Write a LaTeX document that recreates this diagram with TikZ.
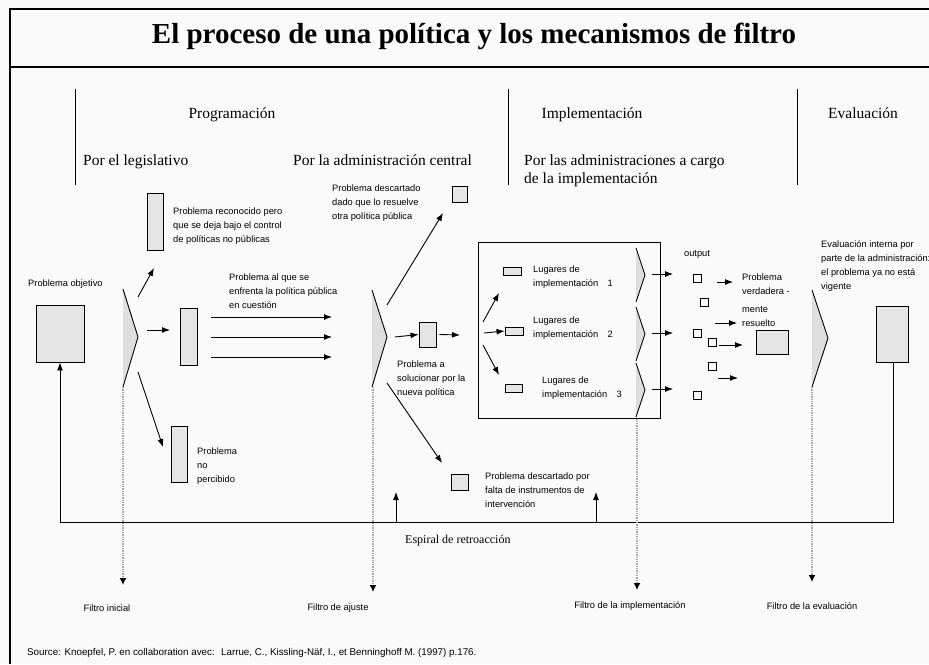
\documentclass[tikz,border=0pt]{standalone}
\usepackage{fontspec}
\setmainfont{Liberation Serif}
\setsansfont{Liberation Sans}
\usetikzlibrary{arrows.meta}

\definecolor{paper}{gray}{0.98}
\definecolor{boxgray}{gray}{0.90}
\definecolor{trigray}{gray}{0.87}

\tikzset{
  pbox/.style={draw, fill=boxgray, inner sep=0pt, line width=0.9pt},
  sq/.style={draw, fill=paper, inner sep=0pt, minimum size=8pt, line width=0.9pt},
  filt/.style={draw, fill=trigray, line width=0.9pt},
  arr/.style={-{Latex[length=8pt,width=6pt]}, line width=0.9pt},
  dots/.style={densely dotted, gray!70, line width=1.3pt, -{Latex[length=7pt,width=7pt,color=black]}},
  lbl/.style={font=\sffamily\fontsize{9.3}{14}\selectfont, align=left, inner sep=0pt, anchor=west},
  head/.style={font=\fontsize{15.5}{18}\selectfont, align=left, inner sep=0pt},
}

\begin{document}
\begin{tikzpicture}[x=1pt,y=-1pt]
    \useasboundingbox[fill=paper] (0,0) rectangle (929,664);
    \draw[line width=1.3pt] (929,9) -- (10,9) -- (10,664);
    \draw[line width=1.3pt] (10,67) -- (929,67);
    \node[font=\bfseries\fontsize{29}{32}\selectfont] (title) at (474,36) {El proceso de una política y los mecanismos de filtro};

    \foreach \x in {75,508,797}
      \draw[line width=1pt] (\x,89) -- (\x,185);
    \node[head, anchor=base] (prog) at (232,118) {Programación};
    \node[head, anchor=base] (impl) at (592,118) {Implementación};
    \node[head, anchor=base west] (eval) at (828,118) {Evaluación};
    \node[head, anchor=base west] (legis) at (83,165) {Por el legislativo};
    \node[head, anchor=base west] (admc) at (293,165) {Por la administración central};
    \node[head, anchor=base west] (admi) at (524,165) {Por las administraciones a cargo};
    \node[head, anchor=base west] (admi2) at (524,183) {de la implementación};

    % problemas
    \node[pbox, minimum width=48pt, minimum height=57pt] (obj) at (60,333.5) {};
    \node[lbl] (objl) at (28,284) {Problema objetivo};
    \node[pbox, minimum width=16pt, minimum height=57pt] (rec) at (155,221.5) {};
    \node[lbl] (recl) at (173,226) {Problema reconocido pero\\que se deja bajo el control\\de políticas no públicas};
    \node[pbox, minimum width=17pt, minimum height=57pt] (enf) at (188.5,336.5) {};
    \node[lbl] (enfl) at (229,291) {Problema al que se\\enfrenta la política pública\\en cuestión};
    \node[pbox, minimum width=16pt, minimum height=56pt] (noperc) at (179,454) {};
    \node[lbl] (nopercl) at (197,466) {Problema\\no\\percibido};
    \node[pbox, minimum width=15pt, minimum height=16pt] (desca) at (459.5,194) {};
    \node[lbl] (descal) at (332,203) {Problema descartado\\dado que lo resuelve\\otra política pública};
    \node[pbox, minimum width=17pt, minimum height=25pt] (sol) at (427.5,334.5) {};
    \node[lbl] (soll) at (397,379) {Problema a\\solucionar por la\\nueva política};
    \node[pbox, minimum width=17pt, minimum height=16pt] (descb) at (459.5,482) {};
    \node[lbl] (descbl) at (485,490) {Problema descartado por\\falta de instrumentos de\\intervención};

    % filtros
    \filldraw[filt] (123,289) -- (138,337) -- (123,387);
    \filldraw[filt] (372,290) -- (387,337) -- (372,387);
    \filldraw[filt] (812,290) -- (828,338) -- (812,387);
    \foreach \y in {248,307,363}
      \filldraw[filt] (636,\y) -- (645,\y+27) -- (636,\y+54);

    % implementacion
    \node[draw, line width=1pt, minimum width=182pt, minimum height=176pt, inner sep=0pt] (ibox) at (569,330) {};
    \node[pbox, minimum width=18pt, minimum height=8pt] (lug1) at (512,271.5) {};
    \node[pbox, minimum width=18pt, minimum height=8pt] (lug2) at (514,331) {};
    \node[pbox, minimum width=17pt, minimum height=8pt] (lug3) at (513.5,388) {};
    \node[lbl] (lug1l) at (533,277) {Lugares de\\implementación\quad 1};
    \node[lbl] (lug2l) at (533,328) {Lugares de\\implementación\quad 2};
    \node[lbl] (lug3l) at (542,388) {Lugares de\\implementación\quad 3};

    % outputs
    \node[lbl, anchor=center] (outl) at (697,254) {output};
    \node[sq] (o1) at (697,278) {};
    \node[sq] (o2) at (704,302) {};
    \node[sq] (o3) at (697,333) {};
    \node[sq] (o4) at (712,342) {};
    \node[sq] (o5) at (712,366) {};
    \node[sq] (o6) at (697,395) {};
    \node[lbl] (verl) at (742,300) {Problema\\verdadera -\\[4pt]mente\\resuelto};
    \node[pbox, minimum width=32pt, minimum height=24pt] (res) at (772,342) {};
    \node[pbox, minimum width=32pt, minimum height=56pt] (ev) at (892,334) {};
    \node[lbl] (evl) at (821,266) {Evaluación interna por\\parte de la administración:\\el problema ya no está\\vigente};

    % flechas
    \coordinate (a1) at (138,297);  \coordinate (b1) at (154,268);
    \coordinate (a2) at (147,330);  \coordinate (b2) at (170,330);
    \coordinate (a3) at (138,372);  \coordinate (b3) at (163,447);
    \draw[arr] (a1) -- (b1);
    \draw[arr] (a2) -- (b2);
    \draw[arr] (a3) -- (b3);
    \foreach \y in {317,337,357}
      \draw[arr] (211,\y) -- (332,\y);
    \coordinate (a4) at (387,305);  \coordinate (b4) at (443,213);
    \coordinate (a5) at (387,383);  \coordinate (b5) at (442,463);
    \draw[arr] (a4) -- (b4);
    \draw[arr] (a5) -- (b5);
    \draw[arr] (395,337) -- (sol.west);
    \draw[arr] (sol.east) ++(3,0) -- (460,335);
    \coordinate (c0) at (484,333);
    \draw[arr] (483,322) -- (499,293);
    \draw[arr] (c0) -- (lug2.west);
    \draw[arr] (483,345) -- (499,375);
    \foreach \y in {274,333,389}
      \draw[arr] (652,\y) -- (673,\y);
    \draw[arr] (717,282) -- (733,282);
    \draw[arr] (715,323) -- (737,323);
    \draw[arr] (719,345) -- (743,345);
    \draw[arr] (718,378) -- (738,378);

    % retroaccion
    \coordinate (fbl) at (60,522);
    \coordinate (fbr) at (893,522);
    \draw[arr] (ev.south -| fbr) -- (fbr) -- (fbl) -- (obj.south);
    \draw[arr] (396,522) -- (396,492);
    \draw[arr] (596,522) -- (596,492);
    \node[anchor=west, font=\fontsize{12}{14}\selectfont, inner sep=0pt] (espl) at (405,541) {Espiral de retroacción};

    % filtros abajo
    \node[lbl, anchor=center] (f1) at (107,608) {Filtro inicial};
    \node[lbl, anchor=center] (f2) at (338,608) {Filtro de ajuste};
    \node[lbl, anchor=center] (f3) at (630,606) {Filtro de la implementación};
    \node[lbl, anchor=center] (f4) at (812,606) {Filtro de la evaluación};
    \draw[dots] (123,387) -- (123,585);
    \draw[dots] (373,387) -- (373,592);
    \draw[dots] (ibox.south -| 637,0) -- (637,590);
    \draw[dots] (812,387) -- (812,582);

    \node[lbl, font=\sffamily\fontsize{9.8}{11}\selectfont] (src) at (27,653) {Source: Knoepfel, P. en collaboration avec: \ Larrue, C., Kissling-Näf, I., et Benninghoff M. (1997) p.176.};
  \end{tikzpicture}
\end{document}
